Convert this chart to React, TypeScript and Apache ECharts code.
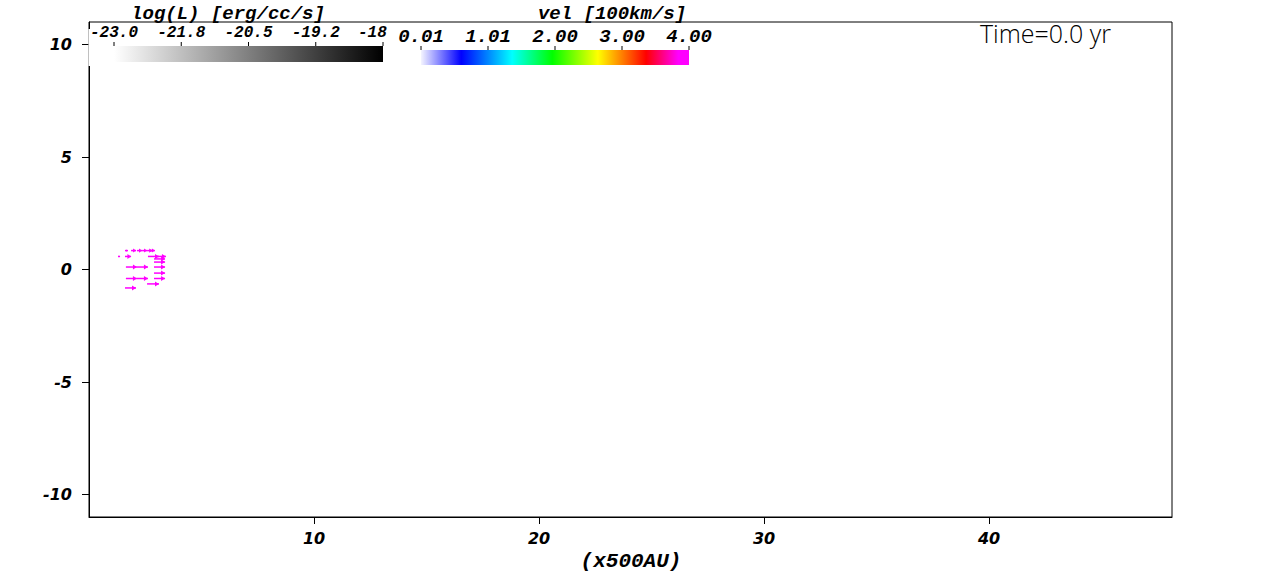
import React, { useEffect, useRef } from "react";
import * as echarts from "echarts";

// Velocity arrows: start position (x500AU) and displacement (x500AU)
const arrowX = [1.60, 1.87, 2.13, 2.36, 2.58, 2.71, 1.29, 1.60, 2.62, 3.02, 2.89, 2.89, 1.64, 2.13, 2.89, 2.89, 1.64, 2.13, 2.89, 2.58, 1.60];
const arrowY = [0.84, 0.84, 0.84, 0.84, 0.84, 0.84, 0.58, 0.58, 0.58, 0.58, 0.47, 0.33, 0.11, 0.11, 0.11, -0.16, -0.40, -0.40, -0.40, -0.64, -0.82];
const arrowU = [0.13, 0.22, 0.23, 0.22, 0.24, 0.22, 0.09, 0.27, 0.49, 0.40, 0.49, 0.49, 0.49, 0.49, 0.49, 0.49, 0.49, 0.49, 0.49, 0.53, 0.49];
const arrowV = [0, 0, 0, 0, 0, 0, 0, 0, 0, 0, 0, 0, 0, 0, 0, 0, 0, 0, 0, 0, 0];

const xTicks = [10, 20, 30, 40];
const yTicks = [-10, -5, 0, 5, 10];
const logLabels = ["-23.0", "-21.8", "-20.5", "-19.2", "-18"];
const velLabels = ["0.01", "1.01", "2.00", "3.00", "4.00"];
const timeLabel = "Time=0.0 yr";

export default function App() {
  const ref = useRef<HTMLDivElement>(null);
  useEffect(() => {
    if (!ref.current) return;
    const chart = echarts.init(ref.current, null, { renderer: "svg" });
    const data = arrowX.map((x, i) => [x, arrowY[i], arrowU[i], arrowV[i]]);
    const mono = "'Liberation Mono', 'DejaVu Sans Mono', monospace";
    const logBarX = 114, logBarW = 269;
    const velBarX = 421, velBarW = 268;
    const graphics: any[] = [
      { type: "rect", z: 100, shape: { x: 88.5, y: 29, width: 620, height: 37 }, style: { fill: "#fff" } },
      { type: "rect", z: 101, shape: { x: logBarX, y: 46, width: logBarW, height: 16 },
        style: { fill: new echarts.graphic.LinearGradient(0, 0, 1, 0, [{ offset: 0, color: "#ffffff" }, { offset: 1, color: "#000000" }]) } },
      { type: "rect", z: 101, shape: { x: velBarX, y: 50, width: velBarW, height: 15 },
        style: { fill: new echarts.graphic.LinearGradient(0, 0, 1, 0, [
          { offset: 0, color: "#f4f4ff" },
          { offset: 0.15, color: "#0000ff" },
          { offset: 0.34, color: "#00ffff" },
          { offset: 0.49, color: "#00ff00" },
          { offset: 0.66, color: "#ffff00" },
          { offset: 0.84, color: "#ff0000" },
          { offset: 0.96, color: "#ff00ff" },
          { offset: 1, color: "#ff00ff" },
        ]) } },
      { type: "text", z: 102, x: 228, y: 14, style: { text: "log(L) [erg/cc/s]", font: `italic bold 19px ${mono}`, fill: "#000", align: "center", verticalAlign: "middle" } },
      { type: "text", z: 102, x: 612, y: 14, style: { text: "vel [100km/s]", font: `italic bold 19px ${mono}`, fill: "#000", align: "center", verticalAlign: "middle" } },
      { type: "text", z: 102, x: 980, y: 33, style: { text: timeLabel, font: "300 25px 'Open Sans', Lato, sans-serif", fill: "#000", align: "left", verticalAlign: "middle" } },
      { type: "text", z: 102, x: 631, y: 561, style: { text: "(x500AU)", font: `italic bold 21px ${mono}`, fill: "#000", align: "center", verticalAlign: "middle" } },
    ];
    logLabels.forEach((t, i) => {
      const x = logBarX + (i * logBarW) / 4;
      graphics.push({ type: "line", z: 102, shape: { x1: x, y1: 42, x2: x, y2: 46 }, style: { stroke: "#000", lineWidth: 1 } });
      const last = i === logLabels.length - 1;
      graphics.push({ type: "text", z: 102, x: last ? 358 : x, y: 33,
        style: { text: t, font: `italic bold 16px ${mono}`, fill: "#000", align: last ? "left" : "center", verticalAlign: "middle" } });
    });
    velLabels.forEach((t, i) => {
      const x = velBarX + (i * velBarW) / 4;
      graphics.push({ type: "line", z: 102, shape: { x1: x, y1: 46, x2: x, y2: 50 }, style: { stroke: "#000", lineWidth: 1 } });
      graphics.push({ type: "text", z: 102, x, y: 37,
        style: { text: t, font: `italic bold 19px ${mono}`, fill: "#000", align: "center", verticalAlign: "middle" } });
    });

    chart.setOption({
      animation: false,
      backgroundColor: "#fff",
      grid: { left: 89, top: 22, width: 1083, height: 495, show: true, borderColor: "#000", borderWidth: 1, backgroundColor: "transparent" },
      xAxis: {
        type: "value", min: 0, max: 1083 / 22.5,
        axisLine: { show: true, onZero: false, lineStyle: { color: "#000", width: 1 } },
        axisTick: { show: true, length: 7, lineStyle: { color: "#000" }, customValues: xTicks },
        axisLabel: { customValues: xTicks, margin: 13, color: "#000", fontFamily: "'DejaVu Sans', sans-serif", fontStyle: "italic", fontWeight: "bold", fontSize: 16 },
        splitLine: { show: false },
      },
      yAxis: {
        type: "value", min: -11, max: 11,
        axisLine: { show: true, onZero: false, lineStyle: { color: "#000", width: 1 } },
        axisTick: { show: true, length: 7, lineStyle: { color: "#000" }, customValues: yTicks },
        axisLabel: { customValues: yTicks, margin: 17, color: "#000", fontFamily: "'DejaVu Sans', sans-serif", fontStyle: "italic", fontWeight: "bold", fontSize: 16 },
        splitLine: { show: false },
      },
      graphic: graphics,
      series: [
        {
          type: "custom",
          data,
          renderItem: (params: any, api: any) => {
            const x0 = api.value(0), y0 = api.value(1), u = api.value(2), v = api.value(3);
            const p0 = api.coord([x0, y0]);
            const p1 = api.coord([x0 + u, y0 + v]);
            const dx = p1[0] - p0[0], dy = p1[1] - p0[1];
            const len = Math.sqrt(dx * dx + dy * dy) || 1;
            const ux = dx / len, uy = dy / len;
            const hl = Math.min(4, len * 0.6), hw = Math.min(2.5, len * 0.4);
            const bx = p1[0] - ux * hl, by = p1[1] - uy * hl;
            return {
              type: "group",
              children: [
                { type: "line", shape: { x1: p0[0], y1: p0[1], x2: p1[0], y2: p1[1] }, style: { stroke: "#ff00ff", lineWidth: 1.5 } },
                { type: "polygon", shape: { points: [[p1[0], p1[1]], [bx - uy * hw, by + ux * hw], [bx + uy * hw, by - ux * hw]] }, style: { fill: "#ff00ff" } },
              ],
            };
          },
        },
      ],
    });
    return () => chart.dispose();
  }, []);
  return <div ref={ref} style={{ position: "fixed", left: 0, top: 0, width: 1275, height: 575 }} />;
}
